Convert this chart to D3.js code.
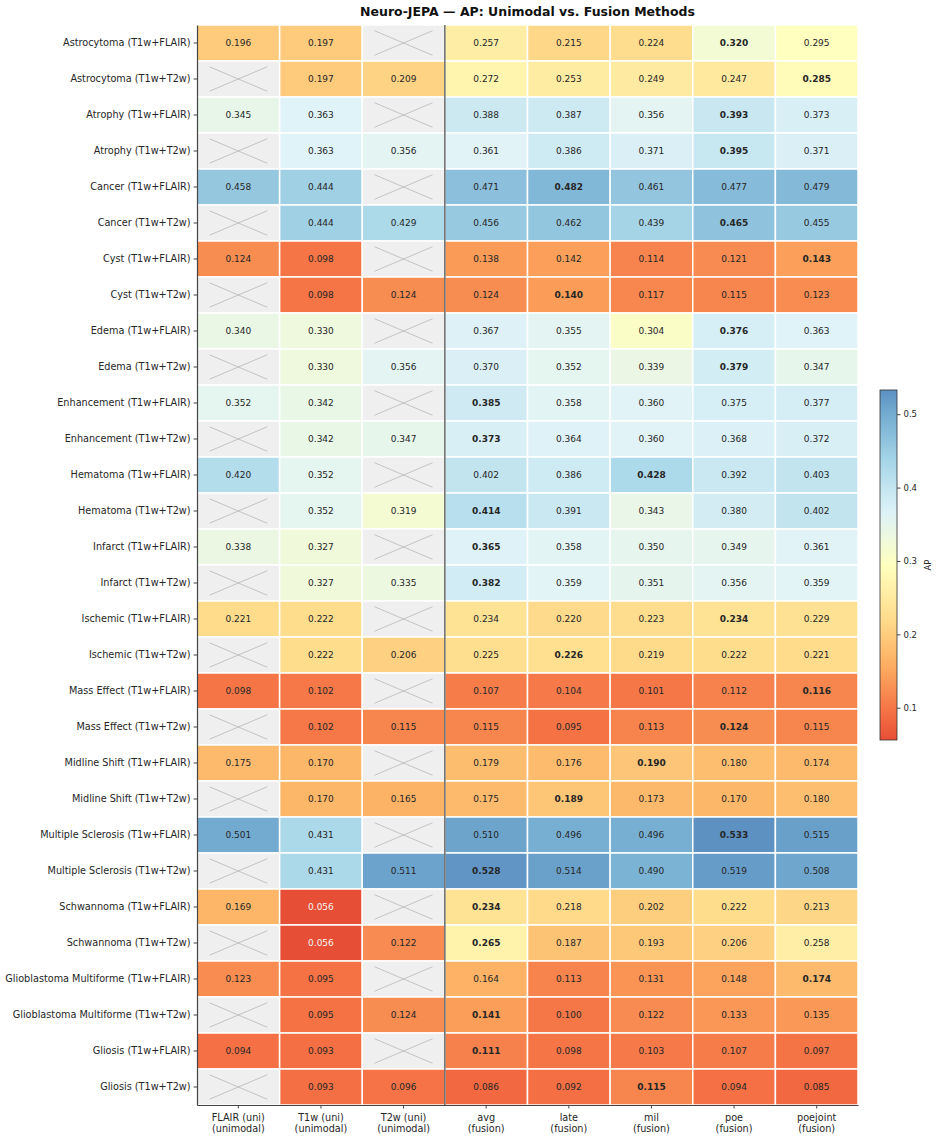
<!DOCTYPE html>
<html>
<head>
<meta charset="utf-8">
<script src="https://cdn.jsdelivr.net/npm/d3@7"></script>
<style>
  body { margin: 0; background: #fff; }
  text { font-family: "DejaVu Sans", sans-serif; }
</style>
</head>
<body>
<div id="chart"></div>
<script>
// rows of the heatmap
const categories = [
  "Astrocytoma (T1w+FLAIR)", "Astrocytoma (T1w+T2w)",
  "Atrophy (T1w+FLAIR)", "Atrophy (T1w+T2w)",
  "Cancer (T1w+FLAIR)", "Cancer (T1w+T2w)",
  "Cyst (T1w+FLAIR)", "Cyst (T1w+T2w)",
  "Edema (T1w+FLAIR)", "Edema (T1w+T2w)",
  "Enhancement (T1w+FLAIR)", "Enhancement (T1w+T2w)",
  "Hematoma (T1w+FLAIR)", "Hematoma (T1w+T2w)",
  "Infarct (T1w+FLAIR)", "Infarct (T1w+T2w)",
  "Ischemic (T1w+FLAIR)", "Ischemic (T1w+T2w)",
  "Mass Effect (T1w+FLAIR)", "Mass Effect (T1w+T2w)",
  "Midline Shift (T1w+FLAIR)", "Midline Shift (T1w+T2w)",
  "Multiple Sclerosis (T1w+FLAIR)", "Multiple Sclerosis (T1w+T2w)",
  "Schwannoma (T1w+FLAIR)", "Schwannoma (T1w+T2w)",
  "Glioblastoma Multiforme (T1w+FLAIR)", "Glioblastoma Multiforme (T1w+T2w)",
  "Gliosis (T1w+FLAIR)", "Gliosis (T1w+T2w)"
];

// columns
const methods = ["FLAIR (uni)", "T1w (uni)", "T2w (uni)", "avg", "late", "mil", "poe", "poejoint"];
const methodGroups = ["unimodal", "unimodal", "unimodal", "fusion", "fusion", "fusion", "fusion", "fusion"];

// AP per column (null = modality not used for that pair)
const flairUni = [0.196, null, 0.345, null, 0.458, null, 0.124, null, 0.340, null, 0.352, null, 0.420, null, 0.338, null, 0.221, null, 0.098, null, 0.175, null, 0.501, null, 0.169, null, 0.123, null, 0.094, null];
const t1wUni = [0.197, 0.197, 0.363, 0.363, 0.444, 0.444, 0.098, 0.098, 0.330, 0.330, 0.342, 0.342, 0.352, 0.352, 0.327, 0.327, 0.222, 0.222, 0.102, 0.102, 0.170, 0.170, 0.431, 0.431, 0.056, 0.056, 0.095, 0.095, 0.093, 0.093];
const t2wUni = [null, 0.209, null, 0.356, null, 0.429, null, 0.124, null, 0.356, null, 0.347, null, 0.319, null, 0.335, null, 0.206, null, 0.115, null, 0.165, null, 0.511, null, 0.122, null, 0.124, null, 0.096];
const avgFusion = [0.257, 0.272, 0.388, 0.361, 0.471, 0.456, 0.138, 0.124, 0.367, 0.370, 0.385, 0.373, 0.402, 0.414, 0.365, 0.382, 0.234, 0.225, 0.107, 0.115, 0.179, 0.175, 0.510, 0.528, 0.234, 0.265, 0.164, 0.141, 0.111, 0.086];
const lateFusion = [0.215, 0.253, 0.387, 0.386, 0.482, 0.462, 0.142, 0.140, 0.355, 0.352, 0.358, 0.364, 0.386, 0.391, 0.358, 0.359, 0.220, 0.226, 0.104, 0.095, 0.176, 0.189, 0.496, 0.514, 0.218, 0.187, 0.113, 0.100, 0.098, 0.092];
const milFusion = [0.224, 0.249, 0.356, 0.371, 0.461, 0.439, 0.114, 0.117, 0.304, 0.339, 0.360, 0.360, 0.428, 0.343, 0.350, 0.351, 0.223, 0.219, 0.101, 0.113, 0.190, 0.173, 0.496, 0.490, 0.202, 0.193, 0.131, 0.122, 0.103, 0.115];
const poeFusion = [0.320, 0.247, 0.393, 0.395, 0.477, 0.465, 0.121, 0.115, 0.376, 0.379, 0.375, 0.368, 0.392, 0.380, 0.349, 0.356, 0.234, 0.222, 0.112, 0.124, 0.180, 0.170, 0.533, 0.519, 0.222, 0.206, 0.148, 0.133, 0.107, 0.094];
const poejointFusion = [0.295, 0.285, 0.373, 0.371, 0.479, 0.455, 0.143, 0.123, 0.363, 0.347, 0.377, 0.372, 0.403, 0.402, 0.361, 0.359, 0.229, 0.221, 0.116, 0.115, 0.174, 0.180, 0.515, 0.508, 0.213, 0.258, 0.174, 0.135, 0.097, 0.085];

const colorbarTicks = [0.1, 0.2, 0.3, 0.4, 0.5];

const columnValues = [flairUni, t1wUni, t2wUni, avgFusion, lateFusion, milFusion, poeFusion, poejointFusion];

const W = 938, H = 1140;
const plot = {left: 197, right: 858, top: 25, bottom: 1105};

const svg = d3.select("#chart").append("svg")
    .attr("width", W)
    .attr("height", H);

const x = d3.scaleBand().domain(methods).range([plot.left, plot.right]);
const y = d3.scaleBand().domain(categories).range([plot.top, plot.bottom]);

// flatten into cells
const cells = [];
categories.forEach((cat, i) => {
  // best fusion value in the row gets bold (last one wins on a tie)
  let best = -1, bestJ = -1;
  methods.forEach((m, j) => {
    const v = columnValues[j][i];
    if (methodGroups[j] === "fusion" && v >= best) { best = v; bestJ = j; }
  });
  methods.forEach((m, j) => {
    cells.push({cat: cat, method: m, value: columnValues[j][i], bold: j === bestJ});
  });
});

const allVals = cells.filter(d => d.value != null).map(d => d.value);
const [vmin, vmax] = d3.extent(allVals);

// RdYlBu, trimmed at both ends
const rdylbu = d3.scaleLinear()
  .domain(d3.range(11).map(i => i / 10))
  .range(d3.schemeRdYlBu[11]);
const color = v => rdylbu(0.15 + 0.7 * (v - vmin) / (vmax - vmin));

// title
svg.append("text")
  .attr("x", (plot.left + plot.right) / 2)
  .attr("y", 16)
  .attr("text-anchor", "middle")
  .style("font-size", "12.5px")
  .style("font-weight", "bold")
  .style("fill", "#111")
  .text("Neuro-JEPA — AP: Unimodal vs. Fusion Methods");

const cellG = svg.append("g").selectAll("g")
  .data(cells)
  .enter()
  .append("g")
    .attr("transform", d => "translate(" + x(d.method) + "," + y(d.cat) + ")");

cellG.append("rect")
  .attr("width", x.bandwidth())
  .attr("height", y.bandwidth())
  .style("fill", d => d.value == null ? "#efefef" : color(d.value))
  .style("stroke", "#fff")
  .style("stroke-width", 1.5);

// crosses on missing cells
const bw = x.bandwidth(), bh = y.bandwidth();
const missing = cellG.filter(d => d.value == null);
missing.append("line")
  .attr("x1", bw * 0.15).attr("y1", bh * 0.16)
  .attr("x2", bw * 0.85).attr("y2", bh * 0.84);
missing.append("line")
  .attr("x1", bw * 0.15).attr("y1", bh * 0.84)
  .attr("x2", bw * 0.85).attr("y2", bh * 0.16);
missing.selectAll("line")
  .style("stroke", "#b8b8b8")
  .style("stroke-width", 0.8);

cellG.filter(d => d.value != null)
  .append("text")
  .attr("x", bw / 2)
  .attr("y", bh / 2)
  .attr("text-anchor", "middle")
  .attr("dominant-baseline", "central")
  .style("font-size", "9px")
  .style("font-weight", d => d.bold ? "bold" : "normal")
  .style("fill", d => {
    const c = d3.rgb(color(d.value));
    const lum = 0.299 * c.r + 0.587 * c.g + 0.114 * c.b;
    return lum < 128 ? "#f4f4f4" : "#262626";
  })
  .text(d => d3.format(".3f")(d.value));

// divider between unimodal and fusion
svg.append("line")
  .attr("x1", x("avg")).attr("x2", x("avg"))
  .attr("y1", plot.top).attr("y2", plot.bottom)
  .style("stroke", "#444")
  .style("stroke-width", 1.2);

// axes
const yAxis = svg.append("g")
  .attr("transform", "translate(" + plot.left + ",0)")
  .call(d3.axisLeft(y).tickSize(3.5).tickSizeOuter(0).tickPadding(3));
yAxis.selectAll("text").style("font-size", "9.7px").style("fill", "#262626");

const xAxis = svg.append("g")
  .attr("transform", "translate(0," + plot.bottom + ")")
  .call(d3.axisBottom(x).tickSize(3.5).tickSizeOuter(0).tickPadding(3).tickFormat(""));
xAxis.selectAll(".tick").append("text")
  .attr("y", 16)
  .attr("text-anchor", "middle")
  .style("font-size", "9.7px")
  .style("fill", "#262626")
  .each(function(d, i) {
    const t = d3.select(this);
    t.append("tspan").attr("x", 0).text(d);
    t.append("tspan").attr("x", 0).attr("dy", "1.15em").text("(" + methodGroups[i] + ")");
  });

[yAxis, xAxis].forEach(a => {
  a.select(".domain").style("stroke", "#444").style("stroke-width", 1.2);
  a.selectAll(".tick line").style("stroke", "#444");
});

// colorbar
const cb = {x: 880, w: 17, top: 390, bottom: 740};
const cbScale = d3.scaleLinear().domain([vmin, vmax]).range([cb.bottom, cb.top]);

const grad = svg.append("defs").append("linearGradient")
  .attr("id", "cbgrad")
  .attr("x1", 0).attr("y1", 1).attr("x2", 0).attr("y2", 0);
d3.range(0, 1.0001, 0.05).forEach(t => {
  grad.append("stop")
    .attr("offset", t)
    .attr("stop-color", color(vmin + t * (vmax - vmin)));
});

svg.append("rect")
  .attr("x", cb.x).attr("y", cb.top)
  .attr("width", cb.w).attr("height", cb.bottom - cb.top)
  .style("fill", "url(#cbgrad)")
  .style("stroke", "#333")
  .style("stroke-width", 0.8);

const cbAxis = svg.append("g")
  .attr("transform", "translate(" + (cb.x + cb.w) + ",0)")
  .call(d3.axisRight(cbScale).tickValues(colorbarTicks).tickFormat(d3.format(".1f")).tickSize(3.5).tickPadding(3));
cbAxis.select(".domain").remove();
cbAxis.selectAll(".tick line").style("stroke", "#444");
cbAxis.selectAll("text").style("font-size", "8.5px").style("fill", "#262626");

svg.append("text")
  .attr("transform", "translate(928," + ((cb.top + cb.bottom) / 2) + ") rotate(-90)")
  .attr("text-anchor", "middle")
  .attr("dominant-baseline", "central")
  .style("font-size", "8.5px")
  .style("fill", "#262626")
  .text("AP");
</script>
</body>
</html>
